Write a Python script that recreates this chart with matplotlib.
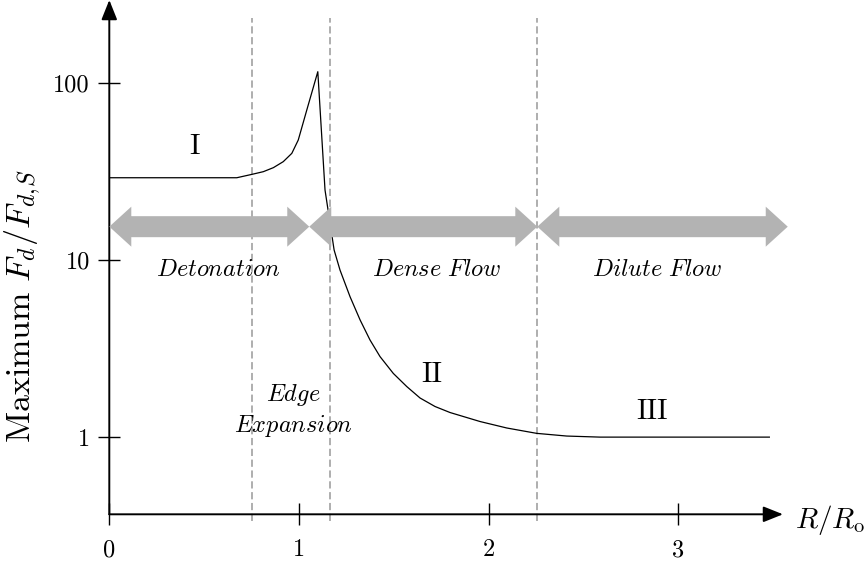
import matplotlib
matplotlib.use("Agg")
import matplotlib.pyplot as plt
from matplotlib.patches import Polygon, FancyArrowPatch
from matplotlib.transforms import IdentityTransform
from matplotlib.ticker import NullLocator

plt.rcParams.update({
    "font.family": "serif",
    "font.serif": ["cmr10"],
    "mathtext.fontset": "cm",
    "axes.unicode_minus": False,
    "axes.formatter.use_mathtext": True,
})

# Maximum drag force ratio along the radial coordinate
r_ratio = [0.0, 0.672, 0.751, 0.812, 0.865, 0.917, 0.962, 0.996, 1.041,
           1.099, 1.137, 1.185, 1.216, 1.269, 1.322, 1.374, 1.427, 1.497,
           1.568, 1.638, 1.717, 1.796, 1.954, 2.095, 2.253, 2.411, 2.587,
           3.479]
force_ratio = [29.2, 29.2, 30.5, 31.6, 33.3, 36.0, 40.1, 47.7, 70.5,
               116.0, 24.9, 11.40, 8.79, 6.21, 4.59, 3.54, 2.85, 2.29,
               1.93, 1.663, 1.489, 1.377, 1.225, 1.126, 1.05, 1.014, 1.0,
               1.0]

# Phase boundaries (dashed) and flow-zone extents (double arrows)
phase_edges = [0.752, 1.163, 2.256]
zone_bounds = [0.0, 1.054, 2.256, 3.576]
zone_names = [r"$Detonation$", r"$Dense\ Flow$", r"$Dilute\ Flow$"]
zone_label_x = [0.573, 1.727, 2.889]
zone_label_y = 8.8
zone_arrow_y = 15.45

# Regime numerals
regime_names = ["I", "II", "III"]
regime_x = [0.447, 1.700, 2.859]
regime_y = [43.5, 2.24, 1.39]

x_ticks = [0, 1, 2, 3]
x_tick_labels = ["0", "1", "2", "3"]
y_ticks = [1, 10, 100]
y_tick_labels = ["1", "10", "100"]

W, H = 867, 565
fig = plt.figure(figsize=(W / 100, H / 100), dpi=100)
ax = fig.add_axes([109.3 / W, 50.7 / H, 673.7 / W, 514.3 / H])
ax.set_yscale("log")
ax.set_xlim(0, 3.551)
ax.set_ylim(0.3664, 294.8)
ax.set_autoscale_on(False)

for s in ax.spines.values():
    s.set_visible(False)

ax.set_xticks(x_ticks)
ax.set_xticklabels(x_tick_labels)
ax.set_yticks(y_ticks)
ax.set_yticklabels(y_tick_labels)
ax.yaxis.set_minor_locator(NullLocator())
ax.tick_params(direction="inout", length=15.8, width=1.0, labelsize=17.5)
ax.tick_params(axis="x", pad=10)
ax.tick_params(axis="y", pad=6)

# Axis lines with arrow heads
for start, end in [((0, 0), (1, 0)), ((0, 0), (0, 1))]:
    arr = FancyArrowPatch(start, end, transform=ax.transAxes,
                          arrowstyle="-|>,head_length=12,head_width=4.8",
                          mutation_scale=1, lw=1.4, color="black",
                          shrinkA=0, shrinkB=0, clip_on=False, zorder=5)
    ax.add_artist(arr)

# Phase boundaries
for xe in phase_edges:
    ax.axvline(xe, ymin=-0.0136, ymax=0.965, color="#a8a8a8", lw=1.3,
               ls=(0, (4, 2)), clip_on=False, zorder=1)

# Force curve
ax.plot(r_ratio, force_ratio, color="black", lw=0.9, zorder=2)

# Flow-zone double arrows
def double_arrow(x0, x1, y, hl=22, hw=20, sw=10.5):
    (p0, py), (p1, _) = ax.transData.transform([(x0, y), (x1, y)])
    verts = [(p0, py), (p0 + hl, py + hw), (p0 + hl, py + sw),
             (p1 - hl, py + sw), (p1 - hl, py + hw), (p1, py),
             (p1 - hl, py - hw), (p1 - hl, py - sw), (p0 + hl, py - sw),
             (p0 + hl, py - hw)]
    poly = Polygon(verts, closed=True, facecolor="#b3b3b3",
                   edgecolor="none", transform=IdentityTransform(),
                   zorder=3)
    fig.add_artist(poly)

for a, b in zip(zone_bounds[:-1], zone_bounds[1:]):
    double_arrow(a, b, zone_arrow_y)

for name, xl in zip(zone_names, zone_label_x):
    ax.text(xl, zone_label_y, name, ha="center", va="center", fontsize=17.5)

ax.text(0.970, 1.73, r"$Edge$", ha="center", va="center", fontsize=17.5)
ax.text(0.970, 1.16, r"$Expansion$", ha="center", va="center", fontsize=17.5)

for name, xr, yr in zip(regime_names, regime_x, regime_y):
    ax.text(xr, yr, name, ha="center", va="center", fontsize=21)

ax.text(1.018, -0.027, r"$R/R_\mathrm{o}$", transform=ax.transAxes,
        ha="left", va="baseline", fontsize=21, clip_on=False)
ax.text(-0.1281, 0.4052, r"$\mathrm{Maximum}\ F_d/F_{d,\!S}$",
        transform=ax.transAxes, rotation=90, ha="center", va="center",
        fontsize=24.5, clip_on=False)

fig.savefig("out.png", dpi=100)
